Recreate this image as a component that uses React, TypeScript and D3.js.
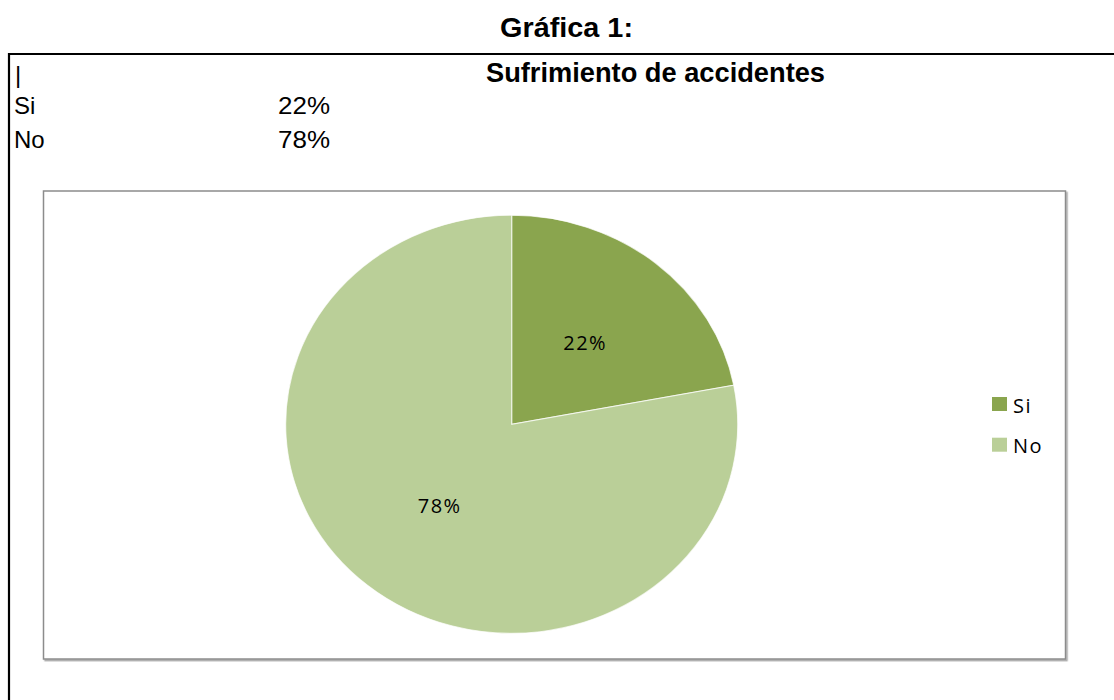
import React from "react";
import * as d3 from "d3";

const categories: string[] = ["Si", "No"];
const values: number[] = [22, 78];
const colors: string[] = ["#8AA54E", "#BACF98"];
const pageTitle = "Gráfica 1:";
const chartTitle = "Sufrimiento de accidentes";

export default function App() {
  const W = 1114;
  const H = 700;
  const cx = 511.7;
  const cy = 424.3;
  const rx = 226;
  const ry = 209;

  const pie = d3
    .pie<number>()
    .sort(null)
    .value((d) => d);
  const arcs = pie(values);
  const arc = d3.arc<d3.PieArcDatum<number>>().innerRadius(0).outerRadius(ry);
  const labelArc = d3
    .arc<d3.PieArcDatum<number>>()
    .innerRadius(ry * 0.505)
    .outerRadius(ry * 0.505);
  const sx = rx / ry;
  const total = d3.sum(values);
  const fmt = (v: number) => `${Math.round((v / total) * 100)}%`;

  const arial = "'Liberation Sans', Arial, sans-serif";
  const calibri = "'Open Sans', 'Noto Sans', sans-serif";

  return (
    <div style={{ position: "fixed", left: 0, top: 0, width: W, height: H, background: "#fff" }}>
      <svg width={W} height={H} viewBox={`0 0 ${W} ${H}`}>
        <defs>
          <filter id="sh" x="-5%" y="-5%" width="110%" height="110%">
            <feDropShadow dx="1.5" dy="1.5" stdDeviation="0.6" floodColor="#000" floodOpacity="0.35" />
          </filter>
        </defs>
        <rect x={0} y={0} width={W} height={H} fill="#fff" />
        <text x={500} y={37} textLength={133} lengthAdjust="spacingAndGlyphs" fontFamily={arial} fontWeight="bold" fontSize={28} fill="#000">
          {pageTitle}
        </text>
        {/* outer border */}
        <line x1={8} y1={54} x2={W} y2={54} stroke="#000" strokeWidth={2.2} />
        <line x1={9} y1={53} x2={9} y2={H} stroke="#000" strokeWidth={2.2} />
        <text x={15} y={83} fontFamily={arial} fontSize={24} fill="#000">|</text>
        <text x={486} y={82} textLength={339} lengthAdjust="spacingAndGlyphs" fontFamily={arial} fontWeight="bold" fontSize={28} fill="#000">
          {chartTitle}
        </text>
        {categories.map((c, i) => (
          <g key={c}>
            <text x={14} y={113.5 + i * 34.5} fontFamily={arial} fontSize={24} fill="#000">{c}</text>
            <text x={278} y={113.5 + i * 34.5} textLength={52} lengthAdjust="spacingAndGlyphs" fontFamily={arial} fontSize={24} fill="#000">{fmt(values[i])}</text>
          </g>
        ))}
        {/* plot area box */}
        <rect x={43.5} y={191} width={1022} height={468} fill="#fff" stroke="#8c8c8c" strokeWidth={1.5} filter="url(#sh)" />
        <g transform={`translate(${cx},${cy}) scale(${sx},1)`}>
          {arcs.map((a, i) => (
            <path key={i} d={arc(a) || ""} fill={colors[i]} stroke="#fff" strokeWidth={1} strokeOpacity={0.7} />
          ))}
        </g>
        {arcs.map((a, i) => {
          const [lx, ly] = labelArc.centroid(a);
          return (
            <text
              key={i}
              x={cx + lx * sx + 0.75}
              y={cy + ly}
              textAnchor="middle"
              dominantBaseline="central"
              fontFamily={calibri}
              fontSize={20}
              letterSpacing={1.5}
              fill="#000"
            >
              {fmt(values[i])}
            </text>
          );
        })}
        {categories.map((c, i) => (
          <g key={c}>
            <rect x={992} y={397 + i * 40.7} width={15} height={14} fill={colors[i]} />
            <text x={1013} y={405 + i * 40.7} dominantBaseline="central" fontFamily={calibri} fontSize={20} letterSpacing={1.5} fill="#000">
              {c}
            </text>
          </g>
        ))}
      </svg>
    </div>
  );
}
